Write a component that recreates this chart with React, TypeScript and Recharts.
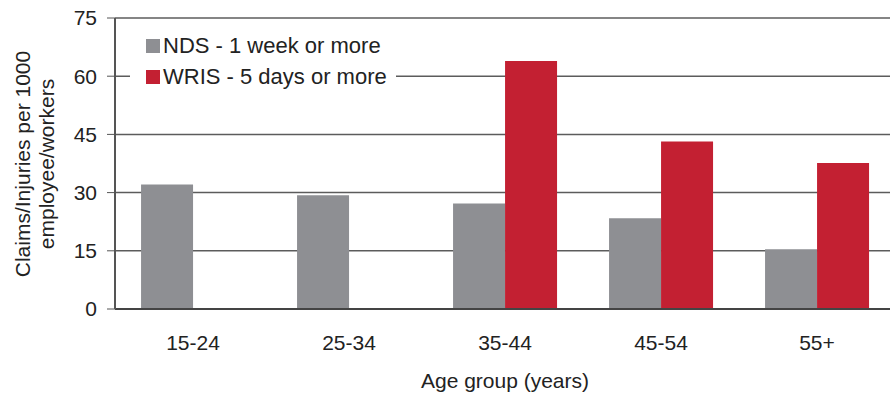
import { Bar, BarChart, CartesianGrid, Label, Legend, XAxis, YAxis } from "recharts";

const ageGroups = ["15-24", "25-34", "35-44", "45-54", "55+"];
const ndsRates = [32.1, 29.3, 27.2, 23.4, 15.4];
const wrisRates = [0, 0, 63.9, 43.2, 37.6];
const yTicks = [0, 15, 30, 45, 60, 75];

const NDS_COLOR = "#8e8f93";
const WRIS_COLOR = "#c32032";
const FONT = "'Liberation Sans', Arial, sans-serif";

const data = ageGroups.map((group, i) => ({
  group,
  nds: ndsRates[i],
  wris: wrisRates[i],
}));

function LegendBox() {
  const items = [
    { name: "NDS - 1 week or more", color: NDS_COLOR },
    { name: "WRIS - 5 days or more", color: WRIS_COLOR },
  ];
  return (
    <div
      style={{
        background: "#fff",
        width: 266,
        padding: "0 0 0 16px",
        boxSizing: "border-box",
        fontFamily: FONT,
        fontSize: 22,
        color: "#222",
      }}
    >
      {items.map((item) => (
        <div key={item.name} style={{ display: "flex", alignItems: "center", height: 31 }}>
          <span style={{ width: 14, height: 14, background: item.color, marginRight: 3 }} />
          {item.name}
        </div>
      ))}
    </div>
  );
}

function YTitle() {
  const cy = 164;
  return (
    <g fontFamily={FONT} fontSize={21} fill="#222" textAnchor="middle">
      <text x={30} y={cy} transform={`rotate(-90 30 ${cy})`}>
        Claims/Injuries per 1000
      </text>
      <text x={54} y={cy} transform={`rotate(-90 54 ${cy})`}>
        employee/workers
      </text>
    </g>
  );
}

function XTitle({ viewBox }: any) {
  return (
    <text
      x={viewBox.x + viewBox.width / 2}
      y={viewBox.y + 79}
      textAnchor="middle"
      fontFamily={FONT}
      fontSize={21}
      fill="#222"
    >
      Age group (years)
    </text>
  );
}

export default function App() {
  return (
    <div
      style={{
        position: "absolute",
        left: 0,
        top: 0,
        width: 890,
        height: 397,
        overflow: "hidden",
        background: "#fff",
      }}
    >
      <BarChart
        width={900}
        height={397}
        data={data}
        margin={{ top: 18, right: 5, bottom: 0, left: 45 }}
        barCategoryGap="16.7%"
        barGap={0}
      >
        <CartesianGrid vertical={false} stroke="#5c5c5c" strokeWidth={1.5} />
        <XAxis
          dataKey="group"
          height={88}
          tickSize={0}
          tickMargin={26}
          axisLine={{ stroke: "#444", strokeWidth: 2 }}
          tick={{ fontSize: 21, fill: "#222", fontFamily: FONT }}
        >
          <Label content={<XTitle />} />
        </XAxis>
        <YAxis
          width={70}
          domain={[0, 75]}
          ticks={yTicks}
          tickSize={8}
          tickMargin={10}
          axisLine={{ stroke: "#555", strokeWidth: 2 }}
          tickLine={{ stroke: "#555" }}
          tick={{ fontSize: 21, fill: "#222", fontFamily: FONT }}
        >
          <Label content={<YTitle />} />
        </YAxis>
        <Legend
          layout="horizontal"
          verticalAlign="middle"
          content={<LegendBox />}
          wrapperStyle={{ position: "absolute", left: 130, top: 30, width: 266, bottom: "auto" }}
        />
        <Bar dataKey="nds" name="NDS - 1 week or more" fill={NDS_COLOR} isAnimationActive={false} />
        <Bar dataKey="wris" name="WRIS - 5 days or more" fill={WRIS_COLOR} isAnimationActive={false} />
      </BarChart>
    </div>
  );
}
